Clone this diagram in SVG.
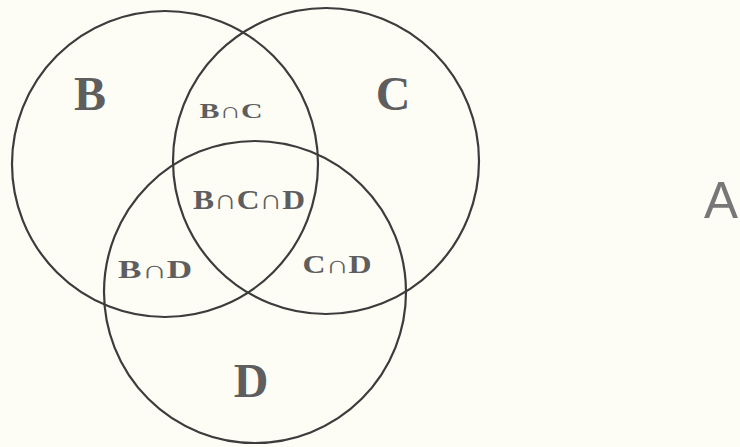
<svg xmlns="http://www.w3.org/2000/svg" width="740" height="447" viewBox="0 0 740 447">
<style>
.c{fill:none;stroke:#3c3c3c;stroke-width:2.2}
.t{font-family:"Liberation Serif","DejaVu Serif",serif;fill:#5e5e5e;text-anchor:middle;font-weight:bold}
.big{font-size:48px}
</style>
<rect width="740" height="447" fill="#fdfdf6"/>
<g id="circle-B"><circle class="c" cx="165" cy="164" r="153"/><text class="t big" x="90" y="110">B</text></g>
<g id="circle-C"><circle class="c" cx="326" cy="161" r="153"/><text class="t big" x="393" y="110">C</text></g>
<g id="circle-D"><circle class="c" cx="255" cy="292" r="151"/><text class="t big" x="251" y="397">D</text></g>
<g id="B-C"><text class="t" style="font-size:22px" x="231" y="118" textLength="63" lengthAdjust="spacingAndGlyphs">B∩C</text></g>
<g id="B-C-D"><text class="t" style="font-size:28px" x="249" y="209" textLength="112" lengthAdjust="spacingAndGlyphs">B∩C∩D</text></g>
<g id="B-D"><text class="t" style="font-size:25px" x="155" y="278" textLength="74" lengthAdjust="spacingAndGlyphs">B∩D</text></g>
<g id="C-D"><text class="t" style="font-size:25px" x="337" y="273" textLength="69" lengthAdjust="spacingAndGlyphs">C∩D</text></g>
<g id="label-A"><text style="font-size:51px;font-family:'Liberation Sans',sans-serif;fill:#777" x="704" y="218">A</text></g>
<g id="connectors"/>
</svg>
